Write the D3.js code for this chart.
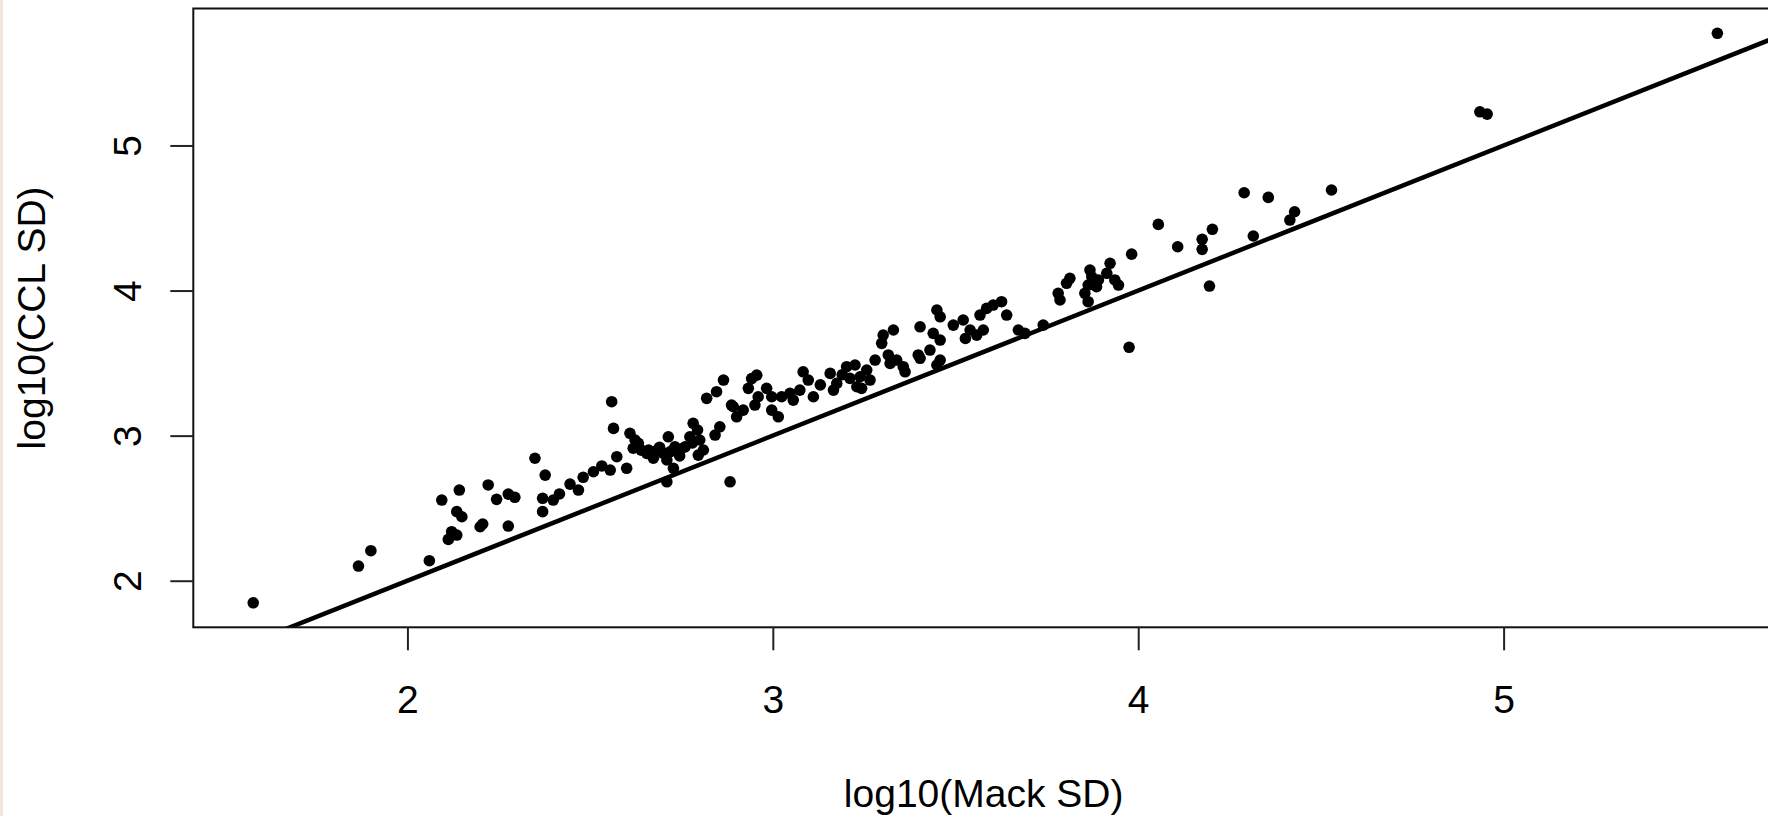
<!DOCTYPE html>
<html>
<head>
<meta charset="utf-8">
<script src="https://cdn.jsdelivr.net/npm/d3@7"></script>
<style>
  html, body { margin: 0; padding: 0; background: #ffffff; overflow: hidden; }
  svg { display: block; }
  text { font-family: "Liberation Sans", Arial, sans-serif; fill: #000; }
</style>
</head>
<body>
<svg id="chart" width="1768" height="816"></svg>
<script>
// log10(Mack SD) values
const mackSD = [
  1.578, 1.866, 1.900, 2.060, 2.094, 2.142, 2.135, 2.149, 2.121, 2.135,
  2.112, 2.199, 2.206, 2.221, 2.244, 2.276, 2.294, 2.276, 2.349, 2.377,
  2.370, 2.370, 2.399, 2.416, 2.445, 2.468, 2.481, 2.509, 2.532, 2.555,
  2.573, 2.600, 2.559, 2.564, 2.609, 2.623, 2.618, 2.655, 2.673, 2.714,
  2.732, 2.710, 2.728, 2.710, 2.760, 2.773, 2.782, 2.819, 2.846, 2.842,
  2.855, 2.887, 2.901, 2.919, 2.883, 2.796, 2.810, 2.865, 2.892, 2.942,
  2.956, 2.933, 2.983, 2.960, 2.951, 2.997, 3.015, 2.997, 3.024, 3.047,
  3.074, 3.083, 3.097, 3.111, 3.056, 3.157, 3.166, 3.175, 3.202, 3.225,
  3.211, 3.230, 3.243, 3.239, 3.257, 3.280, 3.266, 3.302, 3.298, 3.330,
  3.316, 3.321, 3.339, 3.357, 3.362, 3.403, 3.449, 3.458, 3.439, 3.458,
  3.398, 3.403, 3.430, 3.458, 3.449, 3.494, 3.521, 3.527, 3.540, 3.558,
  3.576, 3.567, 3.585, 3.603, 3.626, 3.640, 3.672, 3.690, 3.740, 3.781,
  3.786, 3.813, 3.804, 3.868, 3.873, 3.863, 3.854, 3.863, 3.923, 3.914,
  3.936, 3.946, 3.891, 3.886, 3.982, 3.975, 4.055, 4.108, 4.175, 4.175,
  4.203, 4.195, 4.290, 4.356, 4.315, 4.428, 4.415, 4.529, 4.935, 4.955,
  5.585, 2.632, 2.684, 2.794, 2.640, 2.700, 2.745, 2.660, 2.690, 2.720,
  2.750, 2.780, 2.800, 3.130, 3.190
];
// log10(CCL SD) values
const cclSD = [
  1.848, 2.101, 2.207, 2.138, 2.556, 2.625, 2.476, 2.441, 2.338, 2.315,
  2.285, 2.372, 2.391, 2.660, 2.561, 2.597, 2.575, 2.377, 2.844, 2.728,
  2.568, 2.476, 2.556, 2.598, 2.666, 2.625, 2.713, 2.751, 2.791, 2.763,
  2.855, 2.775, 3.234, 3.050, 3.016, 2.970, 2.913, 2.878, 2.844, 2.992,
  2.923, 2.832, 2.775, 2.682, 2.923, 2.992, 3.085, 3.257, 3.303, 3.004,
  3.061, 3.211, 3.130, 3.176, 2.682, 2.866, 2.901, 3.383, 3.199, 3.393,
  3.417, 3.326, 3.326, 3.268, 3.211, 3.176, 3.130, 3.268, 3.268, 3.291,
  3.314, 3.440, 3.383, 3.268, 3.245, 3.429, 3.314, 3.360, 3.475, 3.487,
  3.395, 3.337, 3.326, 3.406, 3.452, 3.521, 3.383, 3.693, 3.636, 3.728,
  3.556, 3.498, 3.521, 3.475, 3.440, 3.750, 3.866, 3.819, 3.705, 3.659,
  3.556, 3.533, 3.590, 3.521, 3.487, 3.762, 3.797, 3.670, 3.728, 3.693,
  3.728, 3.831, 3.877, 3.900, 3.923, 3.831, 3.728, 3.705, 3.762, 3.981,
  3.935, 4.084, 4.050, 4.141, 4.095, 4.038, 3.981, 3.923, 4.188, 4.119,
  4.073, 4.038, 4.073, 4.027, 4.251, 3.609, 4.456, 4.302, 4.353, 4.284,
  4.422, 4.031, 4.674, 4.642, 4.376, 4.543, 4.486, 4.693, 5.232, 5.216,
  5.773, 2.947, 2.901, 3.039, 2.900, 2.880, 2.860, 2.900, 2.920, 2.890,
  2.910, 2.950, 2.970, 3.350, 3.420
];
const xTicks = [2, 3, 4, 5];
const yTicks = [2, 3, 4, 5];
const xLabel = "log10(Mack SD)";
const yLabel = "log10(CCL SD)";
const refLine = { intercept: 0, slope: 1 };

const points = mackSD.map((m, i) => ({ x: m, y: cclSD[i] }));

const pLeft = 193.3, pRight = 1774, pTop = 8.5, pBottom = 627.3;
const svg = d3.select("#chart");

// thin beige strip at left edge of the capture
svg.append("rect").attr("x", 0).attr("y", 0).attr("width", 3).attr("height", 816)
  .attr("fill", "#efe6d9");

const x = d3.scaleLinear().domain([1.414, 5.740]).range([pLeft, pRight]);
const y = d3.scaleLinear().domain([1.679, 5.944]).range([pBottom, pTop]);

svg.append("defs").append("clipPath").attr("id", "plotclip")
  .append("rect").attr("x", pLeft).attr("y", pTop)
  .attr("width", pRight - pLeft).attr("height", pBottom - pTop);

const plot = svg.append("g").attr("clip-path", "url(#plotclip)");

// points
plot.selectAll("circle.pt").data(points).enter().append("circle")
  .attr("class", "pt")
  .attr("cx", d => x(d.x))
  .attr("cy", d => y(d.y))
  .attr("r", 5.8)
  .attr("fill", "#000");

// reference line y = x
const [x0, x1] = x.domain();
plot.append("line")
  .attr("x1", x(x0)).attr("y1", y(refLine.intercept + refLine.slope * x0))
  .attr("x2", x(x1)).attr("y2", y(refLine.intercept + refLine.slope * x1))
  .attr("stroke", "#000").attr("stroke-width", 4.5);

// box
svg.append("rect").attr("x", pLeft).attr("y", pTop)
  .attr("width", pRight - pLeft).attr("height", pBottom - pTop)
  .attr("fill", "none").attr("stroke", "#111").attr("stroke-width", 2);

// x axis
const xAxis = svg.append("g").attr("transform", `translate(0,${pBottom})`)
  .call(d3.axisBottom(x).tickValues(xTicks).tickSize(23).tickFormat(d3.format("d")));
xAxis.select(".domain").remove();
xAxis.selectAll("line").attr("stroke", "#222").attr("stroke-width", 2);
xAxis.selectAll("text")
  .attr("y", 713 - pBottom).attr("dy", 0)
  .attr("font-size", 39).attr("fill", "#000")
  .style("font-family", '"Liberation Sans", Arial, sans-serif');

// y axis
const yAxis = svg.append("g").attr("transform", `translate(${pLeft},0)`)
  .call(d3.axisLeft(y).tickValues(yTicks).tickSize(23).tickFormat(d3.format("d")));
yAxis.select(".domain").remove();
yAxis.selectAll("line").attr("stroke", "#222").attr("stroke-width", 2);
yAxis.selectAll("text")
  .attr("x", 0).attr("y", 0).attr("dy", 0)
  .attr("text-anchor", "middle")
  .attr("transform", `translate(${141 - pLeft},0) rotate(-90)`)
  .attr("font-size", 39).attr("fill", "#000")
  .style("font-family", '"Liberation Sans", Arial, sans-serif');

// axis titles
svg.append("text")
  .attr("x", (pLeft + pRight) / 2).attr("y", 807)
  .attr("text-anchor", "middle").attr("font-size", 39)
  .text(xLabel);

svg.append("text")
  .attr("transform", `translate(45,${(pTop + pBottom) / 2}) rotate(-90)`)
  .attr("text-anchor", "middle").attr("font-size", 39)
  .text(yLabel);
</script>
</body>
</html>
